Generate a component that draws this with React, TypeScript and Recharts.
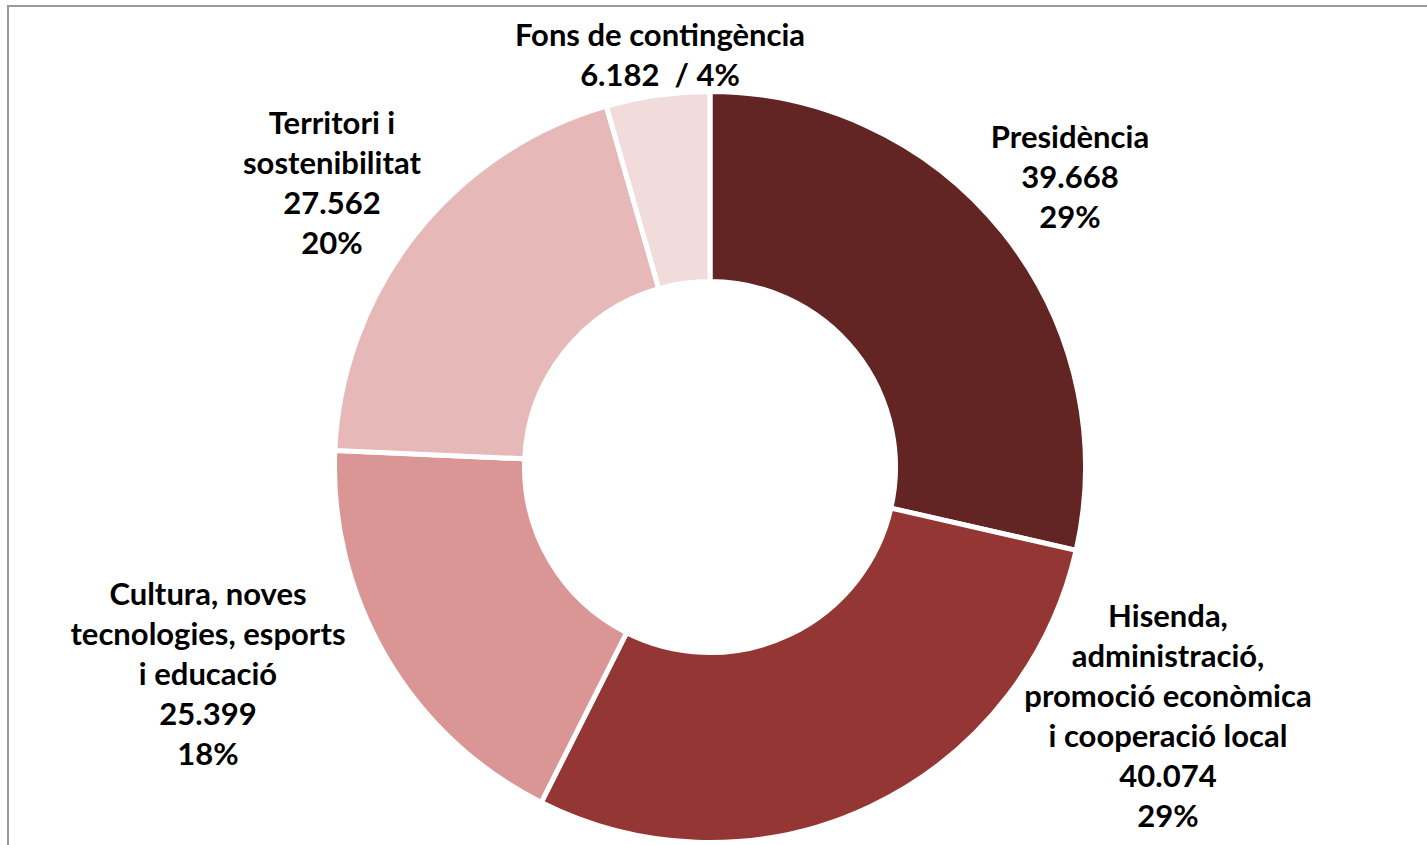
import React from "react";
import { PieChart, Pie, Cell } from "recharts";

const categories = [
  "Presidència",
  "Hisenda, administració, promoció econòmica i cooperació local",
  "Cultura, noves tecnologies, esports i educació",
  "Territori i sostenibilitat",
  "Fons de contingència",
];
const values = [39668, 40074, 25399, 27562, 6182];
const labelLines = [
  ["Presidència"],
  ["Hisenda,", "administració,", "promoció econòmica", "i cooperació local"],
  ["Cultura, noves", "tecnologies, esports", "i educació"],
  ["Territori i", "sostenibilitat"],
  ["Fons de contingència"],
];
const colors = ["#632523", "#943634", "#D99694", "#E6B9B8", "#F2DCDB"];

// label block centre offsets from pie centre (layout only)
const labelOffsets: [number, number][] = [
  [360, -291],
  [458, 248],
  [-502, 206],
  [-378, -285],
  [-50, -413],
];

const total = values.reduce((a, b) => a + b, 0);
const fmt = (v: number) => {
  const s = String(v);
  return s.length > 3 ? s.slice(0, s.length - 3) + "." + s.slice(s.length - 3) : s;
};
const pct = (v: number) => Math.round((v / total) * 100) + "%";

const data = categories.map((name, i) => ({ name, value: values[i] }));

const FONT = "Lato, 'Open Sans', sans-serif";
const LINE_H = 40;

const renderLabel = (props: any) => {
  const { cx, cy, index } = props;
  const v = values[index];
  const lines =
    index === 4
      ? [...labelLines[index], `${fmt(v)}  / ${pct(v)}`]
      : [...labelLines[index], fmt(v), pct(v)];
  const [dx, dy] = labelOffsets[index];
  const x = cx + dx;
  const top = cy + dy - ((lines.length - 1) * LINE_H) / 2;
  return (
    <text
      x={x}
      y={top}
      textAnchor="middle"
      fontFamily={FONT}
      fontWeight={700}
      fontSize={31}
      fill="#000"
    >
      {lines.map((l, i) => (
        <tspan key={i} x={x} y={top + i * LINE_H} dominantBaseline="central" style={{ whiteSpace: "pre" }}>
          {l}
        </tspan>
      ))}
    </text>
  );
};

export default function App() {
  return (
    <div
      style={{
        position: "absolute",
        left: 0,
        top: 0,
        width: 1427,
        height: 845,
        overflow: "hidden",
        background: "#fff",
      }}
    >
      <div
        style={{
          position: "absolute",
          left: 7,
          top: 5,
          width: 1500,
          height: 1000,
          border: "2px solid #9a9a9a",
          boxSizing: "border-box",
        }}
      />
      <div style={{ position: "absolute", left: 0, top: 0 }}>
        <PieChart width={1427} height={845} margin={{ top: 0, right: 0, bottom: 0, left: 0 }}>
          <Pie
            data={data}
            dataKey="value"
            nameKey="name"
            cx={710}
            cy={467}
            outerRadius={375.5}
            innerRadius={185.5}
            startAngle={90}
            endAngle={-270}
            stroke="#fff"
            strokeWidth={5}
            label={renderLabel}
            labelLine={false}
            isAnimationActive={false}
          >
            {data.map((d, i) => (
              <Cell key={d.name} fill={colors[i]} />
            ))}
          </Pie>
        </PieChart>
      </div>
    </div>
  );
}
